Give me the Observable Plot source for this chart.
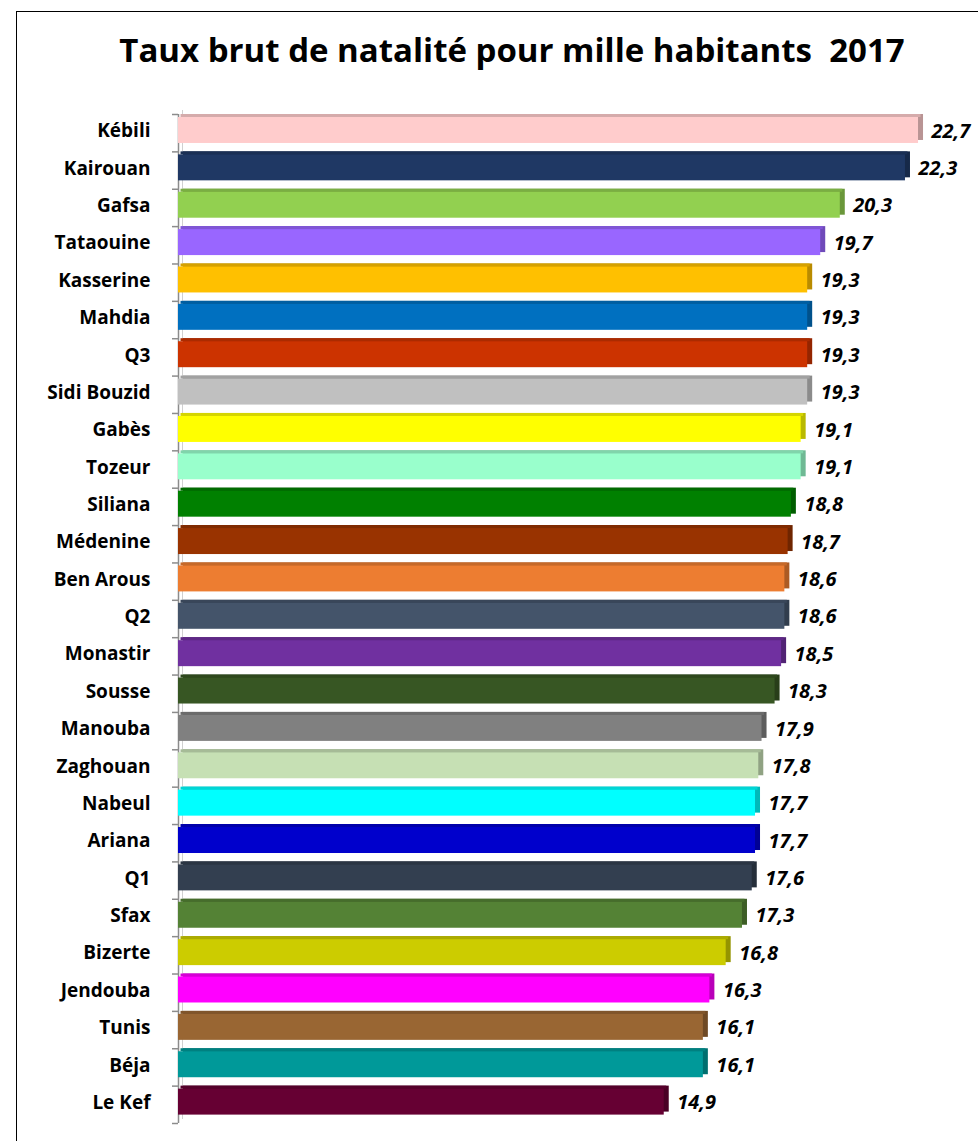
<!DOCTYPE html>
<html>
<head>
<meta charset="utf-8">
<script src="https://cdn.jsdelivr.net/npm/d3@7"></script>
<script src="https://cdn.jsdelivr.net/npm/@observablehq/plot@0.6"></script>
<style>
  html, body { margin: 0; padding: 0; background: #fff; }
  #wrap { position: relative; width: 978px; height: 1141px; overflow: hidden; font-family: "Open Sans", sans-serif; }
  #frame { position: absolute; left: 16px; top: 11px; width: 1000px; height: 1200px; border: 1.5px solid #000; box-sizing: border-box; }
  #title { position: absolute; left: 0; top: 28px; width: 1024px; text-align: center; font-weight: bold; font-size: 33px; line-height: 44px; color: #000; }
  #chart { position: absolute; left: 0; top: 0; }
</style>
</head>
<body>
<div id="wrap">
  <div id="frame"></div>
  <div id="title">Taux brut de natalité pour mille habitants&nbsp; 2017</div>
  <div id="chart"></div>
</div>
<script>
const categories = ["Kébili","Kairouan","Gafsa","Tataouine","Kasserine","Mahdia","Q3","Sidi Bouzid","Gabès","Tozeur","Siliana","Médenine","Ben Arous","Q2","Monastir","Sousse","Manouba","Zaghouan","Nabeul","Ariana","Q1","Sfax","Bizerte","Jendouba","Tunis","Béja","Le Kef"];
const values = [22.7,22.3,20.3,19.7,19.3,19.3,19.3,19.3,19.1,19.1,18.8,18.7,18.6,18.6,18.5,18.3,17.9,17.8,17.7,17.7,17.6,17.3,16.8,16.3,16.1,16.1,14.9];
const colors = ["#FFCCCC","#1F3864","#92D050","#9966FF","#FFC000","#0070C0","#CC3300","#C0C0C0","#FFFF00","#99FFCC","#008000","#993300","#ED7D31","#44546A","#7030A0","#375623","#808080","#C6E0B4","#00FFFF","#0000CC","#333F50","#548235","#CCCC00","#FF00FF","#996633","#009999","#660033"];

const data = categories.map((c, i) => ({
  name: c, v: values[i], fill: colors[i],
  side: d3.color(colors[i]).darker(0.9).formatHex(),
  top: d3.color(colors[i]).darker(0.5).formatHex()
}));

const pxPerUnit = 32.6;
const x0 = 178;
const step = (1123 - 114) / categories.length;

const chart = Plot.plot({
  width: 978,
  height: 1141,
  marginLeft: 0, marginRight: 0, marginTop: 114, marginBottom: 18,
  x: {domain: [0, 24], range: [x0, x0 + 24 * pxPerUnit], axis: null},
  y: {domain: categories, padding: 0, round: false, axis: null},
  color: {type: "identity"},
  style: {fontFamily: "'Open Sans', sans-serif", overflow: "visible"},
  marks: [
    // axis line
    Plot.ruleX([0], {stroke: "#8c8c8c", strokeWidth: 1.5}),
    Plot.ruleX([0], {stroke: "#d0d0d0", strokeWidth: 1, dx: 4, dy: -4}),
    // tick marks at band boundaries
    Plot.ruleY(categories, {y: d => d, x1: -6 / pxPerUnit, x2: 0, dy: -step / 2, stroke: "#8c8c8c", strokeWidth: 1.5}),
    Plot.ruleY([categories[categories.length - 1]], {y: d => d, x1: -6 / pxPerUnit, x2: 0, dy: step / 2, stroke: "#8c8c8c", strokeWidth: 1.5}),
    // 3D side face
    Plot.barX(data, {y: "name", x1: 0, x2: "v", fill: "side", dx: 5, dy: -3, insetTop: 3, insetBottom: 8.4}),
    // 3D top face
    Plot.barX(data, {y: "name", x1: 0, x2: "v", fill: "top", dx: 2.5, dy: -3, insetTop: 3, insetBottom: step - 6}),
    // front face
    Plot.barX(data, {y: "name", x1: 0, x2: "v", fill: "fill", insetTop: 3, insetBottom: 8.4}),
    // category labels
    Plot.text(data, {y: "name", x: 0, text: "name", textAnchor: "end", dx: -28, dy: -2, fontSize: 19, fontWeight: "bold", fill: "#000"}),
    // value labels
    Plot.text(data, {y: "name", x: "v", text: d => d.v.toFixed(1).replace(".", ","), textAnchor: "start", dx: 13, dy: -2, fontSize: 20, fontWeight: "bold", fontStyle: "italic", fill: "#000"})
  ]
});
document.getElementById("chart").appendChild(chart);
</script>
</body>
</html>
